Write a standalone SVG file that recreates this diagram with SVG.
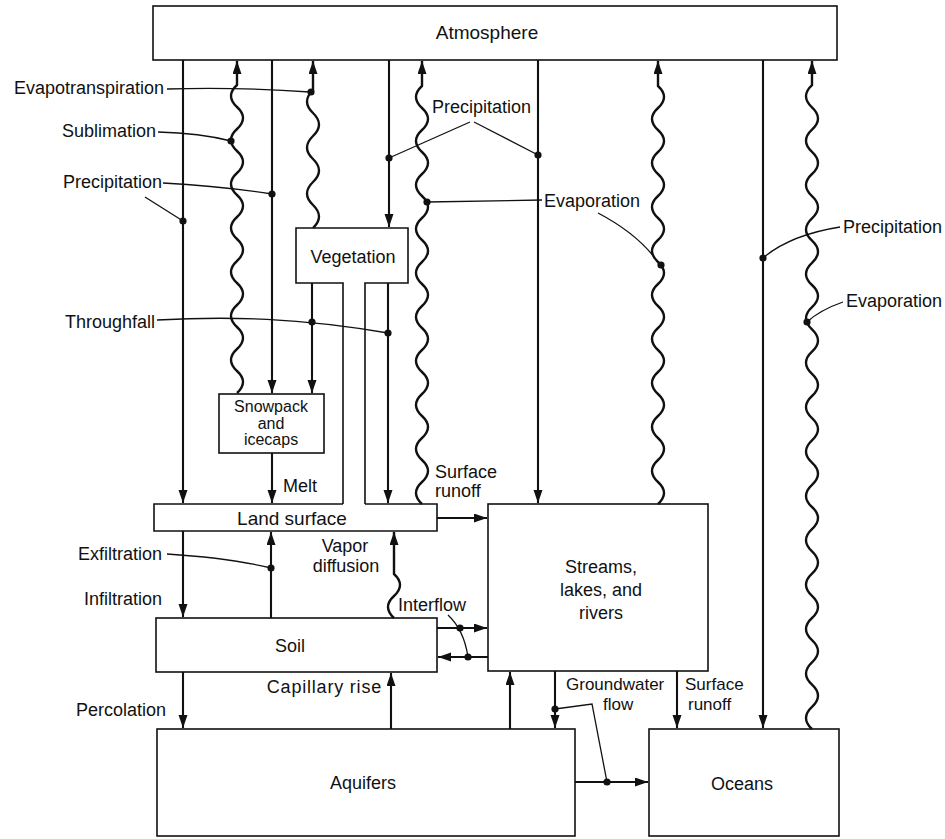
<svg xmlns="http://www.w3.org/2000/svg" width="945" height="839" viewBox="0 0 945 839">
<style>
.box{fill:none;stroke:#111;stroke-width:1.6}
.ln{fill:none;stroke:#111;stroke-width:2.1}
.wv{fill:none;stroke:#111;stroke-width:2.4}
.ld{fill:none;stroke:#111;stroke-width:1.3}
.dot{fill:#111}
text{font-family:"Liberation Sans",Arial,sans-serif;font-size:18px;fill:#111}
.c{text-anchor:middle}
.e{text-anchor:end}
.s{font-size:16px}
.m{font-size:17px}
</style>
<defs>
<marker id="ah" markerUnits="userSpaceOnUse" markerWidth="14" markerHeight="10" refX="13" refY="4.5" orient="auto">
<path d="M0,0 L13,4.5 L0,9 z" fill="#111"/>
</marker>
</defs>
<rect width="945" height="839" fill="#fff"/>

<g id="atmosphere"><rect class="box" x="153" y="6" width="684" height="54"/><text class="c" x="487" y="39" style="font-size:19px">Atmosphere</text></g>
<g id="vegetation"><path class="box" d="M343,504 V283 H296 V228 H408 V283 H365 V504"/><text class="c" x="353" y="263">Vegetation</text></g>
<g id="snowpack"><rect class="box" x="219" y="394" width="105" height="59"/><text class="c s" x="271" y="412">Snowpack</text><text class="c s" x="271" y="429">and</text><text class="c s" x="271" y="445">icecaps</text></g>
<g id="land-surface"><path class="box" d="M365,504 H437 V531 H154 V504 H343"/><text class="c" x="292" y="525" style="font-size:19px">Land surface</text></g>
<g id="streams"><rect class="box" x="488" y="504" width="220" height="167"/><text class="c" x="601" y="573">Streams,</text><text class="c" x="601" y="596">lakes, and</text><text class="c" x="601" y="619">rivers</text></g>
<g id="soil"><rect class="box" x="156" y="618" width="281" height="54"/><text class="c" x="290" y="652">Soil</text></g>
<g id="aquifers"><rect class="box" x="157" y="729" width="418" height="107"/><text class="c" x="363" y="789">Aquifers</text></g>
<g id="oceans"><rect class="box" x="649" y="729" width="190" height="107"/><text class="c" x="742" y="790">Oceans</text></g>

<g id="connectors">
<path class="ln" marker-end="url(#ah)" d="M183,60 V503"/>
<path class="ln" marker-end="url(#ah)" d="M272,60 V393"/>
<path class="ln" marker-end="url(#ah)" d="M389,60 V227"/>
<path class="ln" marker-end="url(#ah)" d="M538,60 V503"/>
<path class="ln" marker-end="url(#ah)" d="M763,60 V728"/>
<path class="ln" marker-end="url(#ah)" d="M312,283 V393"/>
<path class="ln" marker-end="url(#ah)" d="M388,283 V503"/>
<path class="ln" marker-end="url(#ah)" d="M272,453 V503"/>
<path class="ln" marker-end="url(#ah)" d="M183,531 V617"/>
<path class="ln" marker-end="url(#ah)" d="M271,618 V532"/>
<path class="ln" marker-end="url(#ah)" d="M183,672 V728"/>
<path class="ln" marker-end="url(#ah)" d="M391,729 V673"/>
<path class="ln" marker-end="url(#ah)" d="M437,518 H487"/>
<path class="ln" marker-end="url(#ah)" d="M437,628 H487"/>
<path class="ln" marker-end="url(#ah)" d="M488,657 H438"/>
<path class="ln" marker-end="url(#ah)" d="M510,729 V672"/>
<path class="ln" marker-end="url(#ah)" d="M555,671 V728"/>
<path class="ln" marker-end="url(#ah)" d="M677,671 V728"/>
<path class="ln" marker-end="url(#ah)" d="M575,782 H648"/>

<path class="wv" marker-end="url(#ah)" d="M237,393 q12,-11 0,-22 t0,-22 t0,-22 t0,-22 t0,-22 t0,-22 t0,-22 t0,-22 t0,-22 t0,-22 t0,-22 t0,-22 t0,-22 t0,-22 V61"/>
<path class="wv" marker-end="url(#ah)" d="M313,228 q12,-11.5 0,-23 t0,-23 t0,-23 t0,-23 t0,-23 t0,-23 V61"/>
<path class="wv" marker-end="url(#ah)" d="M422,504 q-12,-11 0,-22 t0,-22 t0,-22 t0,-22 t0,-22 t0,-22 t0,-22 t0,-22 t0,-22 t0,-22 t0,-22 t0,-22 t0,-22 t0,-22 t0,-22 t0,-22 t0,-22 t0,-22 t0,-22 V61"/>
<path class="wv" marker-end="url(#ah)" d="M658,504 q12,-11 0,-22 t0,-22 t0,-22 t0,-22 t0,-22 t0,-22 t0,-22 t0,-22 t0,-22 t0,-22 t0,-22 t0,-22 t0,-22 t0,-22 t0,-22 t0,-22 t0,-22 t0,-22 t0,-22 V61"/>
<path class="wv" marker-end="url(#ah)" d="M812,729 q-12,-11.1 0,-22.2 t0,-22.2 t0,-22.2 t0,-22.2 t0,-22.2 t0,-22.2 t0,-22.2 t0,-22.2 t0,-22.2 t0,-22.2 t0,-22.2 t0,-22.2 t0,-22.2 t0,-22.2 t0,-22.2 t0,-22.2 t0,-22.2 t0,-22.2 t0,-22.2 t0,-22.2 t0,-22.2 t0,-22.2 t0,-22.2 t0,-22.2 t0,-22.2 t0,-22.2 t0,-22.2 t0,-22.2 t0,-22.2 V61"/>
<path class="wv" marker-end="url(#ah)" d="M394,618 q-12,-11 0,-22 t0,-22 V532"/>

<path class="ld" d="M167,89 Q240,87 310,92"/>
<path class="ld" d="M158,132 Q200,133 231,141"/>
<path class="ld" d="M163,183 Q220,186 272,194"/>
<path class="ld" d="M145,197 L183,221"/>
<path class="ld" d="M470,122 L389,158"/>
<path class="ld" d="M474,122 L538,155"/>
<path class="ld" d="M542,200 L427,202"/>
<path class="ld" d="M598,213 Q640,235 660,265"/>
<path class="ld" d="M840,227 Q790,235 763,258"/>
<path class="ld" d="M843,302 Q820,310 807,322"/>
<path class="ld" d="M157,320 C230,316 300,318 388,333"/>
<path class="ld" d="M167,554 Q230,558 271,568"/>
<path class="ld" d="M448,615 Q464,630 468,657"/>
<path class="ld" d="M555,709 L592,704 L607,782"/>

<circle class="dot" cx="311" cy="92" r="3.6"/>
<circle class="dot" cx="231" cy="141" r="3.6"/>
<circle class="dot" cx="272" cy="194" r="3.6"/>
<circle class="dot" cx="183" cy="221" r="3.6"/>
<circle class="dot" cx="389" cy="158" r="3.6"/>
<circle class="dot" cx="538" cy="155" r="3.6"/>
<circle class="dot" cx="427" cy="202" r="3.6"/>
<circle class="dot" cx="661" cy="265" r="3.6"/>
<circle class="dot" cx="763" cy="258" r="3.6"/>
<circle class="dot" cx="807" cy="322" r="3.6"/>
<circle class="dot" cx="312" cy="322" r="3.6"/>
<circle class="dot" cx="388" cy="333" r="3.6"/>
<circle class="dot" cx="271" cy="568" r="3.6"/>
<circle class="dot" cx="460" cy="628" r="3.6"/>
<circle class="dot" cx="468" cy="657" r="3.6"/>
<circle class="dot" cx="555" cy="709" r="3.6"/>
<circle class="dot" cx="607" cy="782" r="3.6"/>
</g>

<g id="labels">
<text class="e" x="164" y="94">Evapotranspiration</text>
<text class="e" x="156" y="137">Sublimation</text>
<text class="e" x="162" y="188">Precipitation</text>
<text x="432" y="113">Precipitation</text>
<text x="544" y="207">Evaporation</text>
<text x="843" y="233">Precipitation</text>
<text x="846" y="307">Evaporation</text>
<text class="e" x="155" y="328">Throughfall</text>
<text x="283" y="492">Melt</text>
<text x="435" y="478">Surface</text>
<text x="435" y="497">runoff</text>
<text class="e" x="162" y="560">Exfiltration</text>
<text class="e" x="162" y="605">Infiltration</text>
<text class="c" x="345" y="552">Vapor</text>
<text class="c" x="346" y="572">diffusion</text>
<text x="398" y="611">Interflow</text>
<text class="e" x="382" y="693" style="letter-spacing:0.8px">Capillary rise</text>
<text class="e" x="166" y="716">Percolation</text>
<text class="m" x="566" y="690">Groundwater</text>
<text class="m" x="603" y="710">flow</text>
<text class="m" x="685" y="690">Surface</text>
<text class="m" x="688" y="710">runoff</text>
</g>
</svg>
